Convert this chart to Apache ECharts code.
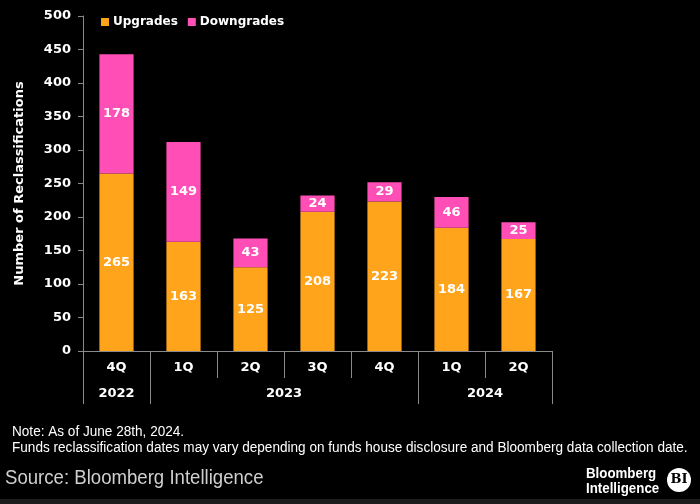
<!DOCTYPE html>
<html>
<head>
<meta charset="utf-8">
<script src="https://cdn.jsdelivr.net/npm/echarts@6/dist/echarts.min.js"></script>
<style>
html,body{margin:0;padding:0;background:#000;}
#c{width:700px;height:504px;}
</style>
</head>
<body>
<div id="c"></div>
<script>
var quarters = ['4Q','1Q','2Q','3Q','4Q','1Q','2Q'];
var years = ['2022','2023','2024'];
var yearSpans = [1,4,2];
var upgrades = [265,163,125,208,223,184,167];
var downgrades = [178,149,43,24,29,46,25];
var yTicks = {min:0, max:500, interval:50};

var tickPos = [0], labelPos = [], acc = 0;
yearSpans.forEach(function(s){ labelPos.push(acc + s/2); acc += s; tickPos.push(acc); });
var qTickPos = [];
for (var i = 0; i <= quarters.length; i++) qTickPos.push(i);

var FONT = 'DejaVu Sans';
var NFONT = '"Liberation Sans Narrow", "Liberation Sans", Arial';
var chart = echarts.init(document.getElementById('c'), null, {renderer:'canvas'});
chart.setOption({
  backgroundColor:'#000',
  animation:false,
  legend:{
    left:96, top:11, itemWidth:8, itemHeight:8, itemGap:10, icon:'rect',
    textStyle:{color:'#fff', fontFamily:FONT, fontWeight:'bold', fontSize:12, padding:[0,0,0,-1]}
  },
  grid:{left:83, right:148, top:16, bottom:153},
  xAxis:[{
    type:'category', data:quarters,
    axisLine:{lineStyle:{color:'#8a8a8a'}},
    axisTick:{show:false},
    axisLabel:{color:'#fff', fontFamily:FONT, fontWeight:'bold', fontSize:13, margin:10, interval:0}
  },{
    type:'value', min:0, max:quarters.length, position:'bottom', offset:0,
    axisLine:{show:false}, splitLine:{show:false},
    axisTick:{show:true, customValues:qTickPos, length:27, lineStyle:{color:'#8a8a8a'}},
    axisLabel:{show:false}
  },{
    type:'value', min:0, max:quarters.length, position:'bottom', offset:27,
    axisLine:{show:false}, splitLine:{show:false},
    axisTick:{show:true, customValues:tickPos, length:26, lineStyle:{color:'#8a8a8a'}},
    axisLabel:{customValues:labelPos, color:'#fff', fontFamily:FONT, fontWeight:'bold', fontSize:13, margin:9,
      formatter:function(v){ var i = labelPos.indexOf(v); return i>=0 ? years[i] : ''; }}
  }],
  yAxis:{
    type:'value', min:yTicks.min, max:yTicks.max, interval:yTicks.interval,
    name:'Number of Reclassifications', nameLocation:'middle', nameGap:57,
    nameTextStyle:{color:'#fff', fontFamily:FONT, fontWeight:'bold', fontSize:13},
    axisLine:{show:true, lineStyle:{color:'#8a8a8a'}},
    axisTick:{show:true, length:5, lineStyle:{color:'#8a8a8a'}},
    splitLine:{show:false},
    axisLabel:{color:'#fff', fontFamily:FONT, fontWeight:'bold', fontSize:13, margin:12}
  },
  series:[{
    name:'Upgrades', type:'bar', stack:'a', data:upgrades, barWidth:'51%', xAxisIndex:0,
    itemStyle:{color:'#FFA41B'},
    label:{show:true, position:'inside', color:'#fff', fontFamily:FONT, fontWeight:'bold', fontSize:13}
  },{
    name:'Downgrades', type:'bar', stack:'a', data:downgrades, barWidth:'51%', xAxisIndex:0,
    itemStyle:{color:'#FF4FB6'},
    label:{show:true, position:'inside', color:'#fff', fontFamily:FONT, fontWeight:'bold', fontSize:13}
  }],
  graphic:[
    {type:'text', x:12, y:425, scaleX:0.97, style:{text:'Note: As of June 28th, 2024.', fill:'#fff', font:'14px ' + NFONT}},
    {type:'text', x:12, y:441, scaleX:0.97, style:{text:'Funds reclassification dates may vary depending on funds house disclosure and Bloomberg data collection date.', fill:'#fff', font:'14px ' + NFONT}},
    {type:'text', x:5, y:468, scaleX:0.93, style:{text:'Source: Bloomberg Intelligence', fill:'#cfcfcf', font:'20px ' + NFONT}},
    {type:'text', x:586, y:467, scaleX:0.95, style:{text:'Bloomberg', fill:'#fff', font:'bold 14px ' + NFONT}},
    {type:'text', x:586, y:482, scaleX:0.95, style:{text:'Intelligence', fill:'#fff', font:'bold 14px ' + NFONT}},
    {type:'circle', shape:{cx:679, cy:480, r:12}, style:{fill:'#fff'}},
    {type:'text', x:679, y:480, style:{text:'BI', fill:'#000', font:'bold 13px "DejaVu Serif"', align:'center', verticalAlign:'middle'}},
    {type:'rect', shape:{x:0, y:499, width:700, height:5}, style:{fill:'#1c1c1c'}}
  ]
});
</script>
</body>
</html>
